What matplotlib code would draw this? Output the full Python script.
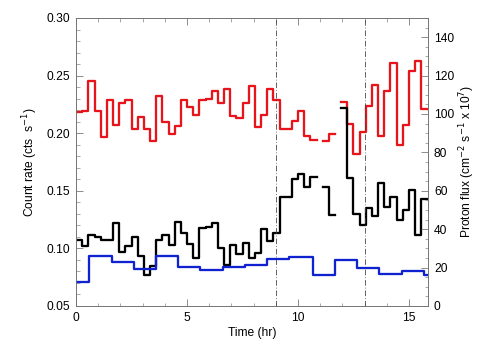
import numpy as np
import matplotlib
matplotlib.use("Agg")
import matplotlib.pyplot as plt
from matplotlib.ticker import MultipleLocator

plt.rcParams['font.family'] = ['Liberation Sans', 'DejaVu Sans']

# 1000 s bins (hr)
bin_width = 1000.0 / 3600.0
n_bins = 57
t_end = n_bins * bin_width

# count rates (cts/s), nan = no data
red = [0.218, 0.219, 0.245, 0.219, 0.197, 0.229, 0.207, 0.226, 0.229, 0.204,
       0.214, 0.204, 0.193, 0.232, 0.210, 0.199, 0.206, 0.229, 0.223, 0.216,
       0.229, 0.230, 0.237, 0.226, 0.238, 0.215, 0.213, 0.226, 0.241, 0.205,
       0.216, 0.238, 0.229, 0.204, 0.204, 0.211, 0.219, 0.198, 0.194, np.nan,
       0.193, 0.199, np.nan, 0.227, 0.208, 0.182, 0.201, 0.224, 0.242, 0.198,
       0.237, 0.261, 0.190, 0.207, 0.254, 0.263, 0.221]
black = [0.107, 0.102, 0.112, 0.110, 0.107, 0.107, 0.122, 0.097, 0.102, 0.110,
         0.093, 0.077, 0.085, 0.107, 0.112, 0.103, 0.123, 0.113, 0.104, 0.092,
         0.118, 0.119, 0.122, 0.100, 0.086, 0.103, 0.095, 0.105, 0.092, 0.096,
         0.117, 0.106, 0.113, 0.145, 0.145, 0.160, 0.165, 0.153, 0.162, np.nan,
         0.153, 0.129, np.nan, 0.222, 0.161, 0.130, 0.120, 0.135, 0.128, 0.157,
         0.136, 0.145, 0.125, 0.133, 0.151, 0.112, 0.143]

# proton flux (cm^-2 s^-1 x 10^7), hourly
flux_start = [0.0, 0.56, 1.6, 2.61, 3.6, 4.61, 5.59, 6.61, 7.61, 8.62,
              9.61, 10.66, 11.67, 12.64, 13.66, 14.67, 15.68]
flux = [12.7, 26.0, 22.7, 19.1, 26.0, 20.5, 18.7, 20.5, 21.3, 24.4,
        25.7, 16.0, 23.9, 19.6, 16.6, 18.4, 16.3]

t_marks = [9, 13]

t = np.arange(n_bins + 1) * bin_width

fig = plt.figure(figsize=(7, 5), dpi=72)
ax = fig.add_axes([0.151, 0.15, 0.698, 0.8])
ax2 = ax.twinx()

ax.step(t, red + [red[-1]], where='post', color='#e8141b', lw=2.3)
ax.step(t, black + [black[-1]], where='post', color='black', lw=2.3)
ax2.step(flux_start + [t_end], flux + [flux[-1]], where='post', color='#1022d0', lw=2.3)

for tm in t_marks:
    ax.axvline(tm, color='0.25', lw=0.8, ls=(0, (7, 2.5, 1, 2.5)))

ax.set_xlim(0, t_end + 0.02)
ax.set_ylim(0.05, 0.30)
ax2.set_ylim(0, 150)

ax.xaxis.set_major_locator(MultipleLocator(5))
ax.xaxis.set_minor_locator(MultipleLocator(1))
ax.yaxis.set_major_locator(MultipleLocator(0.05))
ax.yaxis.set_minor_locator(MultipleLocator(0.01))
ax2.yaxis.set_major_locator(MultipleLocator(20))
ax2.yaxis.set_minor_locator(MultipleLocator(5))
ax.yaxis.set_major_formatter(plt.FormatStrFormatter('%.2f'))

for a in (ax, ax2):
    for s in a.spines.values():
        s.set_color('0.45')
        s.set_linewidth(0.8)
ax.tick_params(which='both', direction='in', top=True, right=False, labelsize=12,
               color='0.45', pad=6)
ax.tick_params(which='major', length=7)
ax.tick_params(which='minor', length=3.5)
ax2.tick_params(which='both', direction='in', labelsize=12, color='0.45', pad=6)
ax2.tick_params(which='major', length=7)
ax2.tick_params(which='minor', length=3.5)

ax.set_xlabel('Time (hr)', fontsize=12, labelpad=3)
ax.set_ylabel('Count rate (cts  s$^{-1}$)', fontsize=12, labelpad=6)
ax2.set_ylabel('Proton flux (cm$^{-2}$ s$^{-1}$ x 10$^{7}$)', fontsize=12, labelpad=3)

fig.savefig('out.png', dpi=72)
